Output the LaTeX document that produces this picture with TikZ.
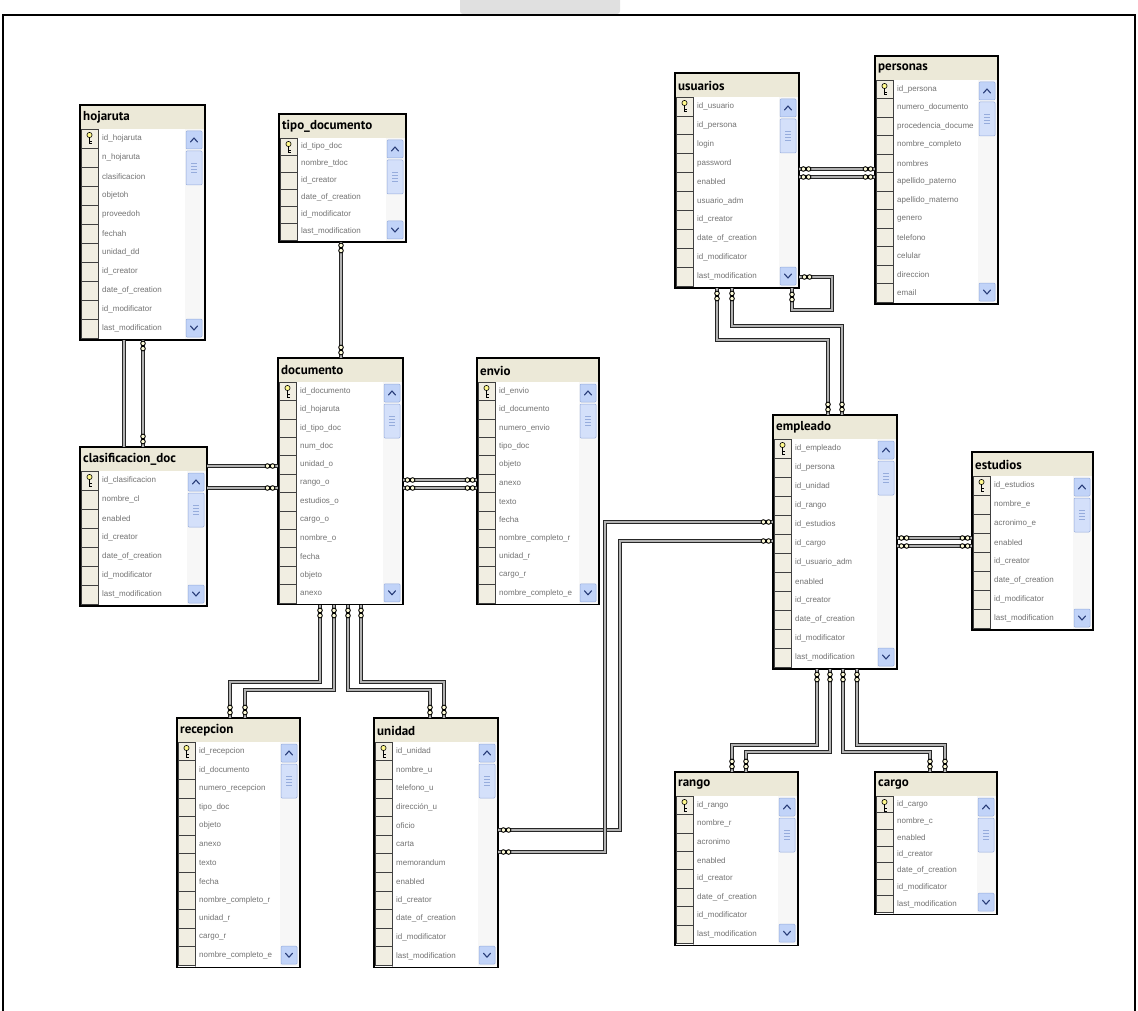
\documentclass[tikz,border=0pt]{standalone}
\usepackage{fontspec}
\setmainfont{Liberation Sans}
\newfontfamily\titlefont{PT Sans}

\definecolor{hdrbeige}{RGB}{236,233,216}
\definecolor{cellbeige}{RGB}{241,238,226}
\definecolor{sbblue}{RGB}{193,211,248}
\definecolor{sbedge}{RGB}{150,172,220}
\definecolor{sbarrow}{RGB}{40,60,120}
\definecolor{fieldgray}{RGB}{115,115,115}

\tikzset{
  tablebox/.style={rectangle, fill=white, inner sep=0pt, outer sep=0pt},
  tableborder/.style={draw=black, line width=1.3pt},
  titletext/.style={font=\titlefont\bfseries\fontsize{13}{15}\selectfont, inner sep=0pt, text=black},
  fieldtext/.style={font=\fontsize{8}{9.5}\selectfont, text=fieldgray, inner sep=0pt},
  selcell/.style={fill=cellbeige, draw=black!75, line width=0.6pt},
  sbbutton/.style={fill=sbblue, draw=sbedge, line width=0.5pt, rounded corners=1pt},
  sbthumb/.style={fill=sbblue!70, draw=sbedge, line width=0.5pt, rounded corners=1pt},
  sbchev/.style={draw=sbarrow, line width=1.1pt, line cap=round, line join=round},
  rel/.style={draw=black!85, line width=0.9pt, double=black!30, double distance=1.8pt},
  chain/.pic={\draw[black, line width=0.9pt, fill=yellow!15] (-2.6pt,0pt) circle (2.3pt) (2.6pt,0pt) circle (2.3pt);},
}

% \dbtable{name}{left}{top}{width}{row height}{title}{fields}
\newcommand\dbtable[7]{%
  \foreach \ff [count=\ii] in {#7} {\xdef\dbn{\ii}}
  \pgfmathsetmacro\dbr{#2+#4}
  \pgfmathsetmacro\dbb{#3+24+\dbn*#5+2}
  \pgfmathsetmacro\dbh{\dbb-#3}
  \node[tablebox, minimum width=#4pt, minimum height=\dbh pt, anchor=north west] (#1) at (#2,#3) {};
  % header band and title
  \fill[hdrbeige] (#2,#3) rectangle (\dbr,#3+24);
  \node[titletext, anchor=west] (#1-title) at (#2+3,#3+12.5) {#6};
  % scroll bar track, buttons and thumb
  \fill[black!3] (\dbr-20,#3+24) rectangle (\dbr-1,\dbb-1);
  \draw[sbbutton] (\dbr-19,#3+26) rectangle (\dbr-3,#3+44);
  \draw[sbchev] (\dbr-14.5,#3+37) -- (\dbr-11,#3+33) -- (\dbr-7.5,#3+37);
  \draw[sbthumb] (\dbr-19,#3+46) rectangle (\dbr-3,#3+80);
  \foreach \kk in {0,1,2,3}
    \draw[sbedge, line width=0.5pt] (\dbr-14,#3+58.5+3*\kk) -- (\dbr-8,#3+58.5+3*\kk);
  \draw[sbbutton] (\dbr-19,\dbb-21) rectangle (\dbr-3,\dbb-3);
  \draw[sbchev] (\dbr-14.5,\dbb-14) -- (\dbr-11,\dbb-10) -- (\dbr-7.5,\dbb-14);
  % row selectors and column names
  \draw[black!35, line width=0.5pt] (#2+18.5,#3+24) -- (#2+18.5,\dbb);
  \foreach \ff [count=\ii] in {#7} {
    \pgfmathsetmacro\yt{#3+24+(\ii-1)*#5}
    \draw[selcell] (#2+1,\yt) rectangle (#2+18,\yt+#5);
    \node[fieldtext, anchor=west] (#1-f\ii) at (#2+22,\yt+#5/2) {\ff};
  }
  % primary key icon
  \draw[black, line width=0.6pt, fill=yellow!45] (#2+9.5,#3+30) circle (2.6pt);
  \draw[black, line width=1pt] (#2+9.5,#3+32.5) -- (#2+9.5,#3+39.5)
        (#2+9.5,#3+36.5) -- (#2+12,#3+36.5) (#2+9.5,#3+39) -- (#2+12,#3+39);
  \draw[tableborder] (#1.north west) rectangle (#1.south east);
}

\begin{document}
\begin{tikzpicture}[x=1pt, y=-1pt]
\useasboundingbox (0,0) rectangle (1138,1011);
\fill[white] (0,0) rectangle (1138,1011);

% page frame and tab
\fill[black!12, rounded corners=3pt] (460,-4) rectangle (620,14);
\draw[black, line width=2pt] (3,1011) -- (3,15) -- (1135,15) -- (1135,1011);

% tables
\dbtable{hojaruta}{80}{105}{125}{19}{hojaruta}{id\_hojaruta, n\_hojaruta, clasificacion, objetoh, proveedoh, fechah, unidad\_dd, id\_creator, date\_of\_creation, id\_modificator, last\_modification}
\dbtable{tipodoc}{279}{114}{127}{17}{tipo\_documento}{id\_tipo\_doc, nombre\_tdoc, id\_creator, date\_of\_creation, id\_modificator, last\_modification}
\dbtable{documento}{278}{358}{125}{18.4}{documento}{id\_documento, id\_hojaruta, id\_tipo\_doc, num\_doc, unidad\_o, rango\_o, estudios\_o, cargo\_o, nombre\_o, fecha, objeto, anexo}
\dbtable{envio}{477}{358}{122}{18.4}{envio}{id\_envio, id\_documento, numero\_envio, tipo\_doc, objeto, anexo, texto, fecha, nombre\_completo\_r, unidad\_r, cargo\_r, nombre\_completo\_e}
\dbtable{clasif}{80}{447}{127}{19}{clasificacion\_doc}{id\_clasificacion, nombre\_cl, enabled, id\_creator, date\_of\_creation, id\_modificator, last\_modification}
\dbtable{usuarios}{675}{73}{124}{18.9}{usuarios}{id\_usuario, id\_persona, login, password, enabled, usuario\_adm, id\_creator, date\_of\_creation, id\_modificator, last\_modification}
\dbtable{personas}{875}{56}{123}{18.5}{personas}{id\_persona, numero\_documento, procedencia\_docume, nombre\_completo, nombres, apellido\_paterno, apellido\_materno, genero, telefono, celular, direccion, email}
\dbtable{empleado}{773}{415}{124}{19}{empleado}{id\_empleado, id\_persona, id\_unidad, id\_rango, id\_estudios, id\_cargo, id\_usuario\_adm, enabled, id\_creator, date\_of\_creation, id\_modificator, last\_modification}
\dbtable{estudios}{972}{452}{121}{19}{estudios}{id\_estudios, nombre\_e, acronimo\_e, enabled, id\_creator, date\_of\_creation, id\_modificator, last\_modification}
\dbtable{rango}{675}{772}{123}{18.4}{rango}{id\_rango, nombre\_r, acronimo, enabled, id\_creator, date\_of\_creation, id\_modificator, last\_modification}
\dbtable{cargo}{875}{772}{122}{16.6}{cargo}{id\_cargo, nombre\_c, enabled, id\_creator, date\_of\_creation, id\_modificator, last\_modification}
\dbtable{recepcion}{177}{718}{123}{18.6}{recepcion}{id\_recepcion, id\_documento, numero\_recepcion, tipo\_doc, objeto, anexo, texto, fecha, nombre\_completo\_r, unidad\_r, cargo\_r, nombre\_completo\_e}
\dbtable{unidad}{374}{718}{124}{18.6}{unidad}{id\_unidad, nombre\_u, telefono\_u, dirección\_u, oficio, carta, memorandum, enabled, id\_creator, date\_of\_creation, id\_modificator, last\_modification}

% relationships
\draw[rel] (tipodoc.south -| 341,0) -- (documento.north -| 341,0);
\draw[rel] (hojaruta.south -| 124,0) -- (clasif.north -| 124,0);
\draw[rel] (hojaruta.south -| 143,0) -- (clasif.north -| 143,0);
\draw[rel] (clasif.east |- 0,466) -- (documento.west |- 0,466);
\draw[rel] (clasif.east |- 0,488) -- (documento.west |- 0,488);
\draw[rel] (documento.east |- 0,480) -- (envio.west |- 0,480);
\draw[rel] (documento.east |- 0,488) -- (envio.west |- 0,488);
\draw[rel] (usuarios.east |- 0,169) -- (personas.west |- 0,169);
\draw[rel] (usuarios.east |- 0,177) -- (personas.west |- 0,177);
\draw[rel] (empleado.east |- 0,538) -- (estudios.west |- 0,538);
\draw[rel] (empleado.east |- 0,546) -- (estudios.west |- 0,546);
% documento to recepcion and unidad
\draw[rel] (documento.south -| 320,0) -- (320,682) -- (230,682) -- (recepcion.north -| 230,0);
\draw[rel] (documento.south -| 334,0) -- (334,690) -- (245,690) -- (recepcion.north -| 245,0);
\draw[rel] (documento.south -| 348,0) -- (348,690) -- (430,690) -- (unidad.north -| 430,0);
\draw[rel] (documento.south -| 361,0) -- (361,682) -- (444,682) -- (unidad.north -| 444,0);
% unidad to empleado
\draw[rel] (unidad.east |- 0,830) -- (620,830) -- (620,541) -- (empleado.west |- 0,541);
\draw[rel] (unidad.east |- 0,852) -- (605,852) -- (605,522) -- (empleado.west |- 0,522);
% usuarios to empleado, and usuarios to itself
\draw[rel] (usuarios.south -| 717,0) -- (717,340) -- (828,340) -- (empleado.north -| 828,0);
\draw[rel] (usuarios.south -| 732,0) -- (732,326) -- (842,326) -- (empleado.north -| 842,0);
\draw[rel] (usuarios.south -| 792,0) -- (792,310) -- (832,310) -- (832,277) -- (usuarios.east |- 0,277);
% empleado to rango and cargo
\draw[rel] (empleado.south -| 817,0) -- (817,745) -- (732,745) -- (rango.north -| 732,0);
\draw[rel] (empleado.south -| 830,0) -- (830,752) -- (746,752) -- (rango.north -| 746,0);
\draw[rel] (empleado.south -| 843,0) -- (843,752) -- (930,752) -- (cargo.north -| 930,0);
\draw[rel] (empleado.south -| 857,0) -- (857,745) -- (945,745) -- (cargo.north -| 945,0);

% relationship end markers
\foreach \px/\py in {341/248, 341/350, 143/346, 143/439,
  320/613, 334/613, 348/613, 361/613, 230/710, 245/710, 430/710, 444/710,
  717/296, 732/296, 792/297, 828/407, 842/407,
  817/677, 830/677, 843/677, 857/677, 732/764, 746/764, 930/764, 945/764}
  \pic[rotate=90] at (\px,\py) {chain};
\foreach \px/\py in {270/466, 270/488, 410/480, 410/488, 470/480, 470/488,
  806/169, 806/177, 868/169, 868/177, 904/538, 904/546, 965/538, 965/546,
  506/830, 506/852, 766/522, 766/541, 807/277}
  \pic at (\px,\py) {chain};
\end{tikzpicture}
\end{document}
